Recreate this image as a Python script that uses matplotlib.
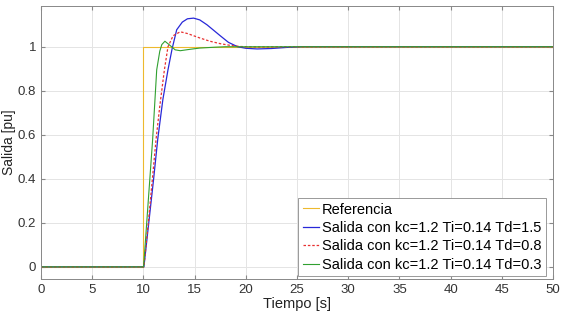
import matplotlib
matplotlib.use("Agg")
import matplotlib.pyplot as plt

plt.rcParams['font.family'] = ['Liberation Sans', 'DejaVu Sans']

# Data
t_ref = [0, 10, 10, 50]
y_ref = [0, 0, 1, 1]

t_td15 = [0, 10.05, 10.5, 11.0, 11.4, 11.9, 12.4, 12.8, 13.25, 13.8, 14.3, 14.9,
          15.5, 16.2, 16.8, 17.5, 18.3, 19.2, 20.0, 21.1, 22.5, 24.0, 25.5, 50]
y_td15 = [0, 0, 0.19, 0.40, 0.58, 0.76, 0.895, 0.99, 1.077, 1.112, 1.127, 1.13,
          1.122, 1.10, 1.077, 1.05, 1.02, 1.0, 0.993, 0.99, 0.992, 0.997, 1.0, 1.0]

t_td08 = [0, 10.05, 10.5, 11.0, 11.23, 11.6, 12.05, 12.4, 12.9, 13.6, 14.3, 15.5,
          16.5, 17.5, 18.5, 19.5, 21.0, 25.0, 50]
y_td08 = [0, 0, 0.21, 0.46, 0.577, 0.73, 0.895, 1.0, 1.05, 1.068, 1.06, 1.04,
          1.025, 1.014, 1.006, 1.001, 0.999, 1.0, 1.0]

t_td03 = [0, 10.02, 10.4, 10.9, 11.3, 11.6, 11.8, 12.1, 12.5, 13.1, 13.6, 14.5,
          15.5, 17.0, 18.0, 50]
y_td03 = [0, 0, 0.25, 0.577, 0.895, 0.98, 1.01, 1.025, 1.01, 0.986, 0.982, 0.988,
          0.994, 0.998, 1.0, 1.0]

labels = ["Referencia",
          "Salida con kc=1.2 Ti=0.14 Td=1.5",
          "Salida con kc=1.2 Ti=0.14 Td=0.8",
          "Salida con kc=1.2 Ti=0.14 Td=0.3"]

xticks = [0, 5, 10, 15, 20, 25, 30, 35, 40, 45, 50]
yticks = [0, 0.2, 0.4, 0.6, 0.8, 1]
ytick_labels = ["0", "0.2", "0.4", "0.6", "0.8", "1"]

fig = plt.figure(figsize=(5.61, 3.17), dpi=100)
ax = fig.add_axes([0.073, 0.12, 0.913, 0.861])

ax.plot(t_ref, y_ref, color='#edb92e', lw=0.8, label=labels[0])
ax.plot(t_td15, y_td15, color='#2828d8', lw=0.9, label=labels[1])
ax.plot(t_td08, y_td08, color='#e83030', lw=0.9, ls=(0, (2, 1.5)), label=labels[2])
ax.plot(t_td03, y_td03, color='#30a030', lw=0.8, label=labels[3])

ax.set_xlim(0, 50)
ax.set_ylim(-0.055, 1.185)
ax.set_xticks(xticks)
ax.set_yticks(yticks)
ax.set_yticklabels(ytick_labels)
ax.grid(True, color='#e4e4e4', lw=0.7)
ax.set_axisbelow(True)
ax.tick_params(direction='in', length=3, color='#888888', labelsize=9.5,
               labelcolor='#333333', top=True, right=True)
for s in ax.spines.values():
    s.set_color('#888888')
    s.set_linewidth(0.7)

ax.set_xlabel("Tiempo [s]", fontsize=10.5, color='#222222', labelpad=1)
ax.set_ylabel("Salida [pu]", fontsize=10, color='#222222')
ax.yaxis.set_label_coords(-0.048, 0.5)

leg = ax.legend(loc='lower right', bbox_to_anchor=(0.991, 0.0), fontsize=10.5,
                handlelength=1.1, handletextpad=0.2, borderpad=0.3,
                labelspacing=0.3, fancybox=False, framealpha=1,
                edgecolor='#999999', borderaxespad=0.2)
leg.get_frame().set_linewidth(0.7)

fig.savefig("out.png", dpi=100)
